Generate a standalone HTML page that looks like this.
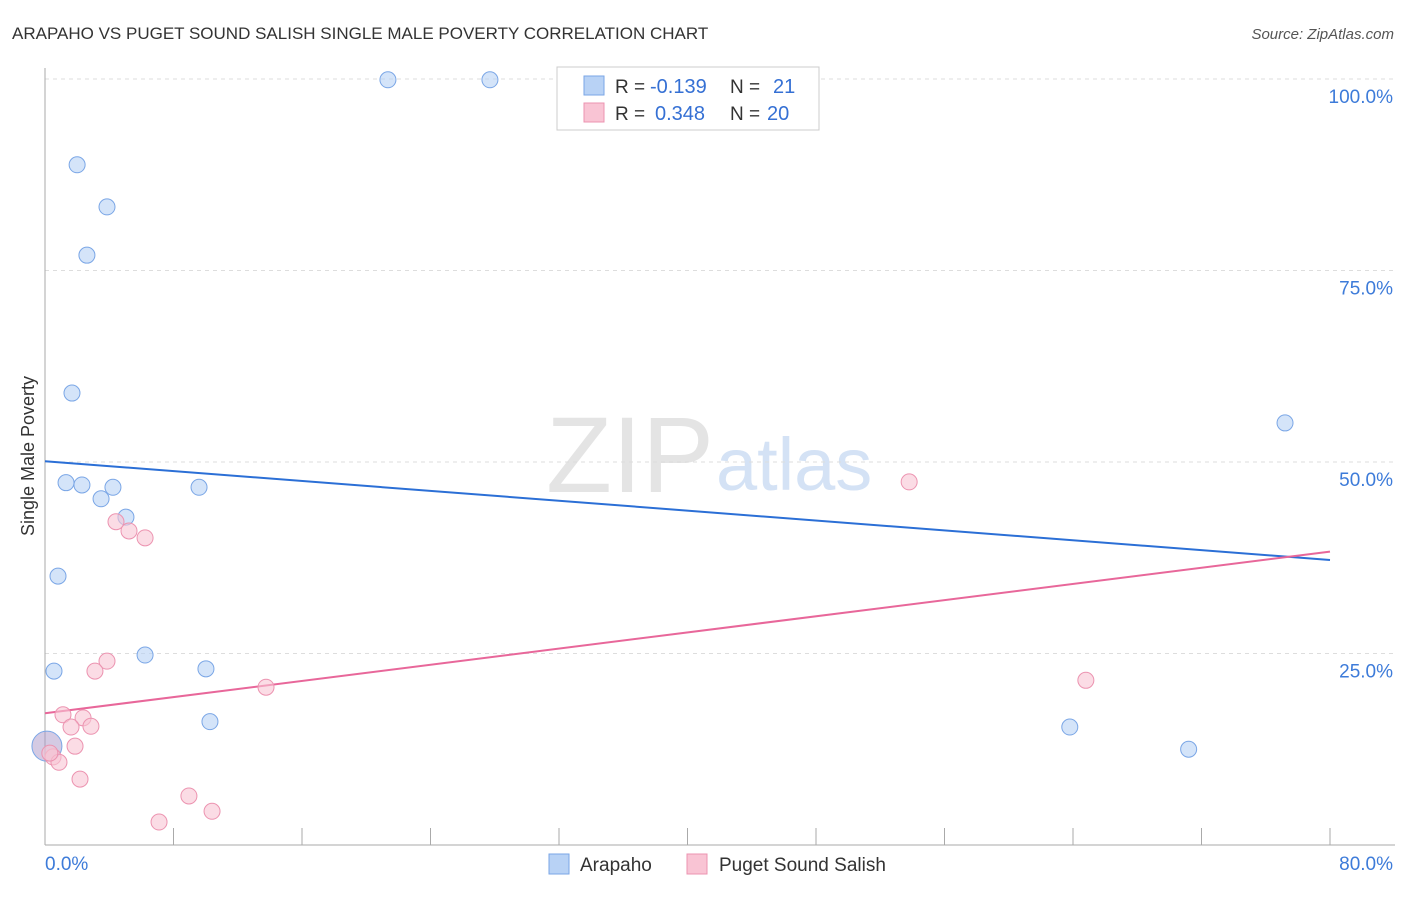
<!DOCTYPE html>
<html><head><meta charset="utf-8"><style>
body{margin:0;background:#fff;font-family:"Liberation Sans",sans-serif;}
svg text{font-family:"Liberation Sans",sans-serif;}
</style></head><body>
<svg id="chart" width="1406" height="892" xmlns="http://www.w3.org/2000/svg">
<text x="12" y="39" font-size="17" fill="#333">ARAPAHO VS PUGET SOUND SALISH SINGLE MALE POVERTY CORRELATION CHART</text>
<text x="1394" y="39" font-size="15" fill="#555" font-style="italic" text-anchor="end">Source: ZipAtlas.com</text>
<text x="714" y="492" font-size="108" fill="#e4e4e4" text-anchor="end" font-family="Liberation Serif">ZIP</text>
<text x="716" y="490" font-size="74" fill="#d4e2f5">atlas</text>
<text x="34" y="456" font-size="18" fill="#333" text-anchor="middle" transform="rotate(-90 34 456)">Single Male Poverty</text>
<g id="grid"></g><g id="axes"></g><g id="trend"></g><g id="pts"></g>
<g>
<rect x="557" y="67" width="262" height="63" fill="#fff" stroke="#ccc"/>
<rect x="584" y="76" width="20" height="19" fill="#b8d2f5" stroke="#7aa6e6"/>
<rect x="584" y="103" width="20" height="19" fill="#f9c4d4" stroke="#ec93b0"/>
<text x="615" y="93" font-size="19" fill="#333">R =</text>
<text x="650" y="93" font-size="20" fill="#3570d4">-0.139</text>
<text x="730" y="93" font-size="19" fill="#333">N =</text>
<text x="773" y="93" font-size="20" fill="#3570d4">21</text>
<text x="615" y="120" font-size="19" fill="#333">R =</text>
<text x="655" y="120" font-size="20" fill="#3570d4">0.348</text>
<text x="730" y="120" font-size="19" fill="#333">N =</text>
<text x="767" y="120" font-size="20" fill="#3570d4">20</text>
</g>
<g>
<rect x="549" y="854" width="20" height="20" fill="#b8d2f5" stroke="#7aa6e6"/>
<text x="580" y="871" font-size="19" fill="#333">Arapaho</text>
<rect x="687" y="854" width="20" height="20" fill="#f9c4d4" stroke="#ec93b0"/>
<text x="719" y="871" font-size="19" fill="#333">Puget Sound Salish</text>
</g>
</svg>
<script>
const blueX=[21.35,27.7,2.0,3.86,2.61,1.68,77.2,1.31,2.3,4.23,9.59,3.49,5.04,0.81,6.23,0.56,10.02,10.27,63.8,71.2,0.12];
const blueY=[99.9,99.9,88.8,83.3,77.0,59.0,55.1,47.3,47.0,46.7,46.7,45.2,42.8,35.1,24.8,22.7,23.0,16.1,15.4,12.5,12.9];
const pinkX=[4.42,5.23,6.23,53.8,3.86,3.11,13.76,64.8,1.12,2.37,1.62,2.86,1.87,0.5,0.87,2.18,8.96,10.4,7.1,0.3];
const pinkY=[42.2,41.0,40.1,47.4,24.0,22.7,20.6,21.5,17.0,16.6,15.4,15.5,12.9,11.5,10.8,8.6,6.4,4.4,3.0,12.0];
const blueTrend=[50.1,37.2];
const pinkTrend=[17.2,38.3];
const yTicks=[25,50,75,100];
const xTicks=[0,8,16,24,32,40,48,56,64,72,80];
const NS='http://www.w3.org/2000/svg';
const sx=v=>45+v/80*1285, sy=v=>845-v/100*766;
function mk(p,t,a){const e=document.createElementNS(NS,t);for(const k in a)e.setAttribute(k,a[k]);document.getElementById(p).appendChild(e);return e;}
yTicks.forEach(t=>{
 const l=mk('grid','line',{x1:45,x2:1395,y1:sy(t),y2:sy(t),stroke:'#ddd','stroke-dasharray':'4,4'});
 
 
 const tx=mk('grid','text',{x:1393,y:sy(t)+24,'font-size':19,fill:'#3d7bd9','text-anchor':'end'});
 tx.textContent=t.toFixed(1)+'%';
 
 
});
const ax=mk('axes','line',{x1:45,x2:45,y1:68,y2:845,stroke:'#aaa'});


const bx=mk('axes','line',{x1:45,x2:1395,y1:845,y2:845,stroke:'#aaa'});


xTicks.forEach(t=>{
 const l=mk('axes','line',{x1:sx(t),x2:sx(t),y1:828,y2:845,stroke:'#aaa'});
 
 
});
[[0,'start'],[80,'end']].forEach(([t,a])=>{
 const tx=mk('axes','text',{x:t==0?45:1393,y:870,'font-size':19,fill:'#3d7bd9','text-anchor':a});
 tx.textContent=t.toFixed(1)+'%';
 
 
});
const bl=mk('trend','line',{x1:sx(0),x2:sx(80),y1:sy(blueTrend[0]),y2:sy(blueTrend[1]),stroke:'#2b6fd6','stroke-width':2});


const pl=mk('trend','line',{x1:sx(0),x2:sx(80),y1:sy(pinkTrend[0]),y2:sy(pinkTrend[1]),stroke:'#e8679a','stroke-width':2});


blueX.forEach((x,i)=>{
 const big=i==20;
 const c=mk('pts','circle',{cx:sx(x),cy:sy(blueY[i]),r:big?15:8,fill:big?'rgba(170,150,200,0.5)':'rgba(184,210,245,0.6)',stroke:'#7aa6e6','stroke-width':1});
 
 
});
pinkX.forEach((x,i)=>{
 const c=mk('pts','circle',{cx:sx(x),cy:sy(pinkY[i]),r:8,fill:'rgba(249,196,212,0.6)',stroke:'#ec93b0','stroke-width':1});
 
 
});
</script>
</body></html>
